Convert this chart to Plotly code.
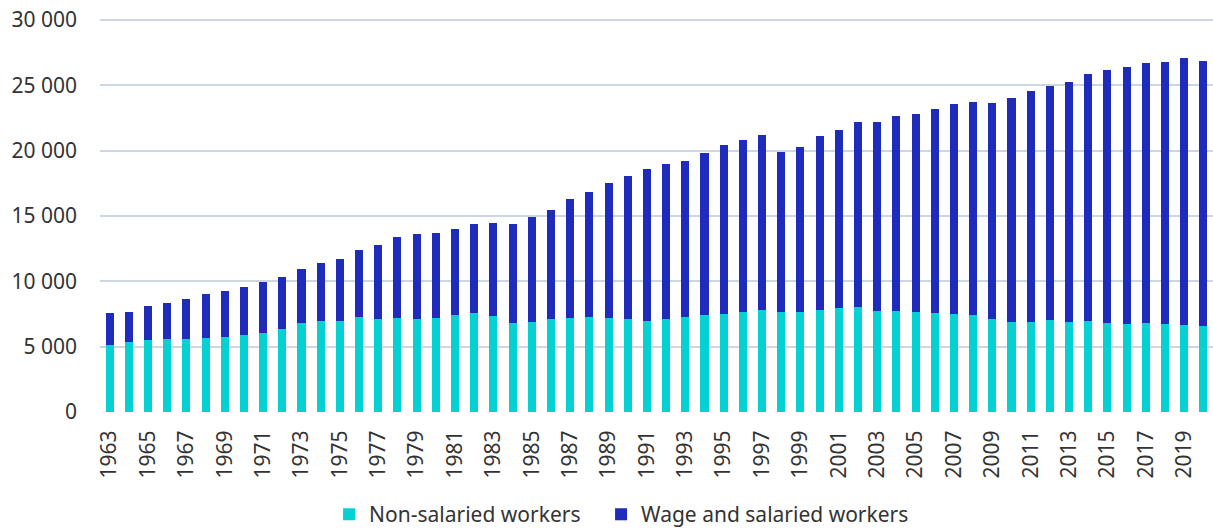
import plotly.graph_objects as go

years = list(range(1963, 2021))
total = [7551, 7679, 8112, 8316, 8622, 9031, 9260, 9592, 9949, 10357,
         10918, 11428, 11709, 12423, 12806, 13393, 13597, 13673, 14031, 14362,
         14490, 14413, 14949, 15459, 16326, 16837, 17551, 18087, 18622, 19005,
         19235, 19822, 20408, 20842, 21199, 19898, 20306, 21148, 21607, 22219,
         22219, 22678, 22831, 23214, 23546, 23750, 23648, 24005, 24541, 24949,
         25281, 25893, 26173, 26403, 26709, 26811, 27117, 26888]
non_salaried = [5153, 5357, 5510, 5561, 5612, 5689, 5740, 5867, 6046, 6378,
                6811, 6990, 6990, 7270, 7092, 7168, 7143, 7219, 7449, 7551,
                7347, 6811, 6888, 7092, 7168, 7270, 7168, 7143, 6990, 7092,
                7296, 7398, 7525, 7653, 7832, 7653, 7653, 7832, 7934, 8036,
                7755, 7730, 7653, 7602, 7475, 7449, 7092, 6913, 6913, 7066,
                6913, 6990, 6811, 6760, 6811, 6760, 6684, 6556]
wage_salaried = [t - n for t, n in zip(total, non_salaried)]

y_tickvals = [0, 5000, 10000, 15000, 20000, 25000, 30000]
y_ticktext = ["0", "5 000", "10 000", "15 000", "20 000", "25 000", "30 000"]

FONT = "Noto Sans, Open Sans, sans-serif"
TXT = "#333333"
fig = go.Figure()
fig.add_trace(go.Bar(x=years, y=non_salaried, name="Non-salaried workers",
                     legendwidth=227,
                     marker=dict(color="#04d2d2", line=dict(width=0))))
fig.add_trace(go.Bar(x=years, y=wage_salaried, name="Wage and salaried workers",
                     marker=dict(color="#1f2bbd", line=dict(width=0))))

fig.update_layout(
    barmode="stack",
    bargap=0.58,
    width=1213, height=529,
    margin=dict(l=100, r=0, t=19, b=117, autoexpand=False),
    paper_bgcolor="white", plot_bgcolor="white",
    font=dict(family=FONT, size=21, color=TXT),
    showlegend=True,
    legend=dict(orientation="h", x=0.2058, xanchor="left", y=-0.209, yanchor="top",
                font=dict(size=21, color=TXT), traceorder="normal",
                itemwidth=30),
)
fig.update_xaxes(
    type="linear", range=[1962.5, 2020.5], automargin=False,
    tickmode="array", tickvals=years[::2], ticktext=[str(y) for y in years[::2]],
    tickangle=-90, showgrid=False, zeroline=False, showline=False,
    ticks="outside", ticklen=9, tickcolor="rgba(0,0,0,0)",
    tickfont=dict(size=21, color=TXT),
)
fig.update_yaxes(
    range=[0, 30080], automargin=False, ticklabeloverflow="allow",
    tickmode="array", tickvals=y_tickvals, ticktext=y_ticktext,
    showgrid=True, gridcolor="#cdd7e3", gridwidth=1.5, zeroline=False,
    ticklabelstandoff=22, tickfont=dict(size=21, color=TXT),
)
fig.write_html("out.html", config={"displayModeBar": False},
               post_script="document.body.style.margin='0';document.body.style.overflow='hidden';")
